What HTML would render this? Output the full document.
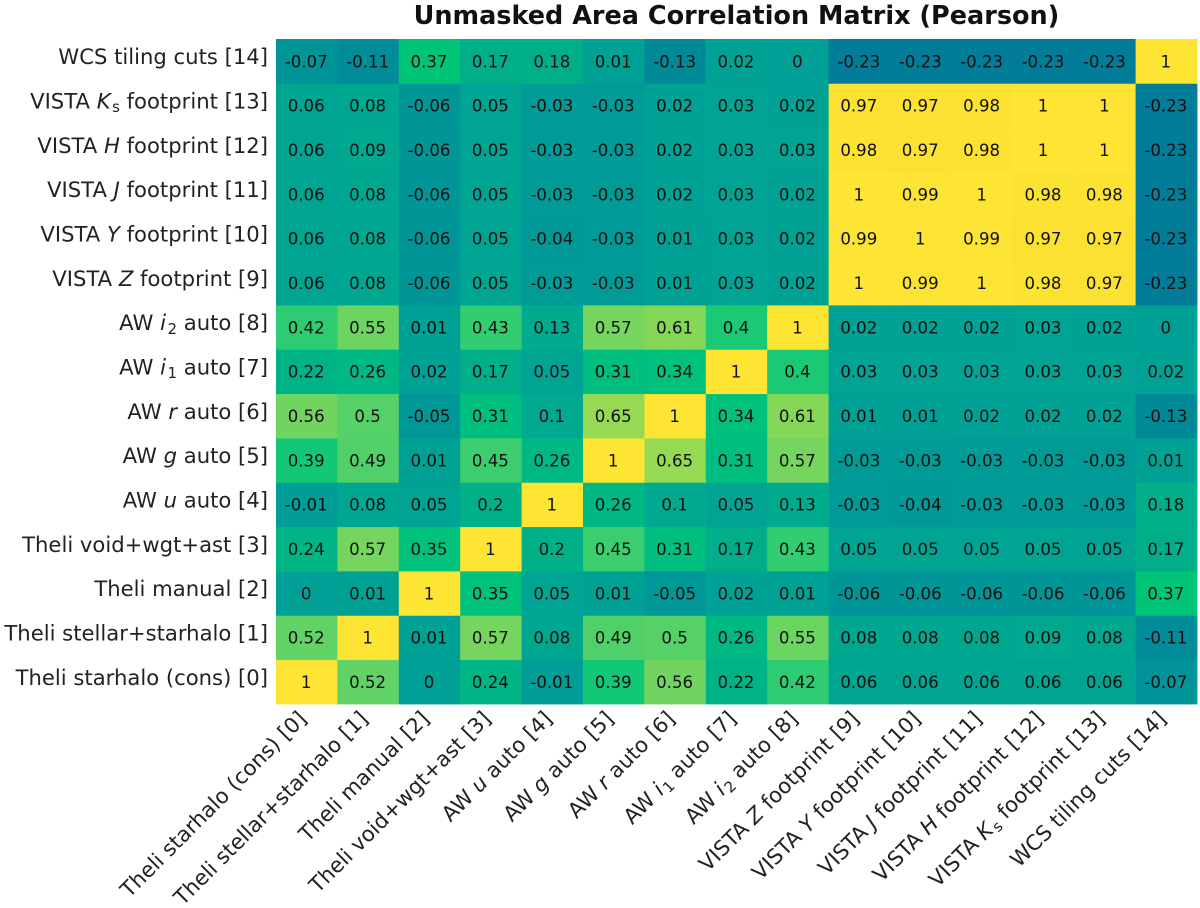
<!DOCTYPE html>
<html lang="en">
<head>
<meta charset="utf-8">
<title>Unmasked Area Correlation Matrix (Pearson)</title>
<style>
  html, body { margin: 0; padding: 0; background: #fff; width: 1200px; height: 908px; overflow: hidden; }
  svg { display: block; font-family: "DejaVu Sans", "Liberation Sans", sans-serif; filter: blur(0.35px); }
</style>
</head>
<body>
<svg id="chart" xmlns="http://www.w3.org/2000/svg" width="1200" height="908" viewBox="0 0 1200 908">
  <text x="736.5" y="24" text-anchor="middle" font-size="25.5" font-weight="bold" fill="#111">Unmasked Area Correlation Matrix (Pearson)</text>
  <g id="cells"></g>
  <g id="annotations"></g>
  <g id="y-labels"></g>
  <g id="x-labels"></g>
</svg>
<script>
// Label markup: *x* = italic, _x_ = subscript. Index 0 is the bottom row / left column.
const labels = [
  "Theli starhalo (cons) [0]",
  "Theli stellar+starhalo [1]",
  "Theli manual [2]",
  "Theli void+wgt+ast [3]",
  "AW *u* auto [4]",
  "AW *g* auto [5]",
  "AW *r* auto [6]",
  "AW *i*_1_ auto [7]",
  "AW *i*_2_ auto [8]",
  "VISTA *Z* footprint [9]",
  "VISTA *Y* footprint [10]",
  "VISTA *J* footprint [11]",
  "VISTA *H* footprint [12]",
  "VISTA *K*_s_ footprint [13]",
  "WCS tiling cuts [14]"
];
const row0  = [1, 0.52, 0, 0.24, -0.01, 0.39, 0.56, 0.22, 0.42, 0.06, 0.06, 0.06, 0.06, 0.06, -0.07];
const row1  = [0.52, 1, 0.01, 0.57, 0.08, 0.49, 0.5, 0.26, 0.55, 0.08, 0.08, 0.08, 0.09, 0.08, -0.11];
const row2  = [0, 0.01, 1, 0.35, 0.05, 0.01, -0.05, 0.02, 0.01, -0.06, -0.06, -0.06, -0.06, -0.06, 0.37];
const row3  = [0.24, 0.57, 0.35, 1, 0.2, 0.45, 0.31, 0.17, 0.43, 0.05, 0.05, 0.05, 0.05, 0.05, 0.17];
const row4  = [-0.01, 0.08, 0.05, 0.2, 1, 0.26, 0.1, 0.05, 0.13, -0.03, -0.04, -0.03, -0.03, -0.03, 0.18];
const row5  = [0.39, 0.49, 0.01, 0.45, 0.26, 1, 0.65, 0.31, 0.57, -0.03, -0.03, -0.03, -0.03, -0.03, 0.01];
const row6  = [0.56, 0.5, -0.05, 0.31, 0.1, 0.65, 1, 0.34, 0.61, 0.01, 0.01, 0.02, 0.02, 0.02, -0.13];
const row7  = [0.22, 0.26, 0.02, 0.17, 0.05, 0.31, 0.34, 1, 0.4, 0.03, 0.03, 0.03, 0.03, 0.03, 0.02];
const row8  = [0.42, 0.55, 0.01, 0.43, 0.13, 0.57, 0.61, 0.4, 1, 0.02, 0.02, 0.02, 0.03, 0.02, 0];
const row9  = [0.06, 0.08, -0.06, 0.05, -0.03, -0.03, 0.01, 0.03, 0.02, 1, 0.99, 1, 0.98, 0.97, -0.23];
const row10 = [0.06, 0.08, -0.06, 0.05, -0.04, -0.03, 0.01, 0.03, 0.02, 0.99, 1, 0.99, 0.97, 0.97, -0.23];
const row11 = [0.06, 0.08, -0.06, 0.05, -0.03, -0.03, 0.02, 0.03, 0.02, 1, 0.99, 1, 0.98, 0.98, -0.23];
const row12 = [0.06, 0.09, -0.06, 0.05, -0.03, -0.03, 0.02, 0.03, 0.03, 0.98, 0.97, 0.98, 1, 1, -0.23];
const row13 = [0.06, 0.08, -0.06, 0.05, -0.03, -0.03, 0.02, 0.03, 0.02, 0.97, 0.97, 0.98, 1, 1, -0.23];
const row14 = [-0.07, -0.11, 0.37, 0.17, 0.18, 0.01, -0.13, 0.02, 0, -0.23, -0.23, -0.23, -0.23, -0.23, 1];
const matrix = [row0, row1, row2, row3, row4, row5, row6, row7, row8, row9, row10, row11, row12, row13, row14];

const colorDomain = [-0.23, -0.11, 0, 0.2, 0.31, 0.37, 0.42, 0.52, 0.65, 0.97, 1];
const colorRange = ["#017d99", "#008c98", "#00a096", "#00b188", "#00bd80", "#00c578", "#2dcc72", "#60d266", "#96d952", "#fbe232", "#fee433"];

const NS = "http://www.w3.org/2000/svg";
const plotLeft = 276, plotRight = 1197, plotTop = 39, plotBottom = 704;
const n = labels.length;
const cellW = (plotRight - plotLeft) / n;
const cellH = (plotBottom - plotTop) / n;
const xScale = i => plotLeft + i * cellW;
const yScale = i => plotBottom - (i + 1) * cellH;

function hexToRgb(h) {
  return [1, 3, 5].map(p => parseInt(h.slice(p, p + 2), 16));
}
function colorOf(v) {
  const c = Math.max(colorDomain[0], Math.min(colorDomain[colorDomain.length - 1], v));
  let k = 0;
  while (k < colorDomain.length - 2 && c > colorDomain[k + 1]) k++;
  const t = (c - colorDomain[k]) / (colorDomain[k + 1] - colorDomain[k]);
  const a = hexToRgb(colorRange[k]), b = hexToRgb(colorRange[k + 1]);
  return "rgb(" + a.map((u, j) => Math.round(u + (b[j] - u) * t)).join(",") + ")";
}
function appendLabel(textEl, label) {
  const parts = label.split(/(\*[^*]+\*|_[^_]+_)/).filter(Boolean);
  let afterSub = false;
  parts.forEach(part => {
    const t = document.createElementNS(NS, "tspan");
    if (part[0] === "*") {
      t.textContent = part.slice(1, -1);
      t.setAttribute("font-style", "italic");
      if (afterSub) t.setAttribute("dy", "-3.7");
      afterSub = false;
    } else if (part[0] === "_") {
      t.textContent = part.slice(1, -1);
      t.setAttribute("font-size", "15");
      t.setAttribute("dy", "3.7");
      t.setAttribute("dx", "1.5");
      afterSub = true;
    } else {
      t.textContent = part;
      if (afterSub) t.setAttribute("dy", "-3.7");
      afterSub = false;
    }
    textEl.appendChild(t);
  });
}

const cellsG = document.getElementById("cells");
const annG = document.getElementById("annotations");
const yG = document.getElementById("y-labels");
const xG = document.getElementById("x-labels");

matrix.forEach((row, r) => {
  row.forEach((value, c) => {
    const rect = document.createElementNS(NS, "rect");
    
    
    rect.setAttribute("x", xScale(c).toFixed(2));
    rect.setAttribute("y", yScale(r).toFixed(2));
    rect.setAttribute("width", (cellW + 0.4).toFixed(2));
    rect.setAttribute("height", (cellH + 0.4).toFixed(2));
    rect.setAttribute("fill", colorOf(value));
    cellsG.appendChild(rect);

    const txt = document.createElementNS(NS, "text");
    
    
    txt.setAttribute("x", (xScale(c) + cellW / 2 - 0.5).toFixed(2));
    txt.setAttribute("y", (yScale(r) + cellH / 2 + 6.2).toFixed(2));
    txt.setAttribute("text-anchor", "middle");
    txt.setAttribute("font-size", "16.6");
    txt.setAttribute("fill", "#111");
    txt.textContent = String(value);
    annG.appendChild(txt);
  });
});

labels.forEach((label, i) => {
  const yt = document.createElementNS(NS, "text");
  
  
  yt.setAttribute("x", "268");
  yt.setAttribute("y", (yScale(i) + cellH / 2 + 3).toFixed(2));
  yt.setAttribute("text-anchor", "end");
  yt.setAttribute("font-size", "21.15");
  yt.setAttribute("fill", "#222");
  appendLabel(yt, label);
  yG.appendChild(yt);

  const xt = document.createElementNS(NS, "text");
  const px = xScale(i) + cellW / 2 + 1;
  const py = 720;
  
  
  xt.setAttribute("transform", "translate(" + px.toFixed(2) + " " + py + ") rotate(-45)");
  xt.setAttribute("text-anchor", "end");
  xt.setAttribute("font-size", "21.15");
  xt.setAttribute("fill", "#222");
  appendLabel(xt, label);
  xG.appendChild(xt);
});
</script>
</body>
</html>
